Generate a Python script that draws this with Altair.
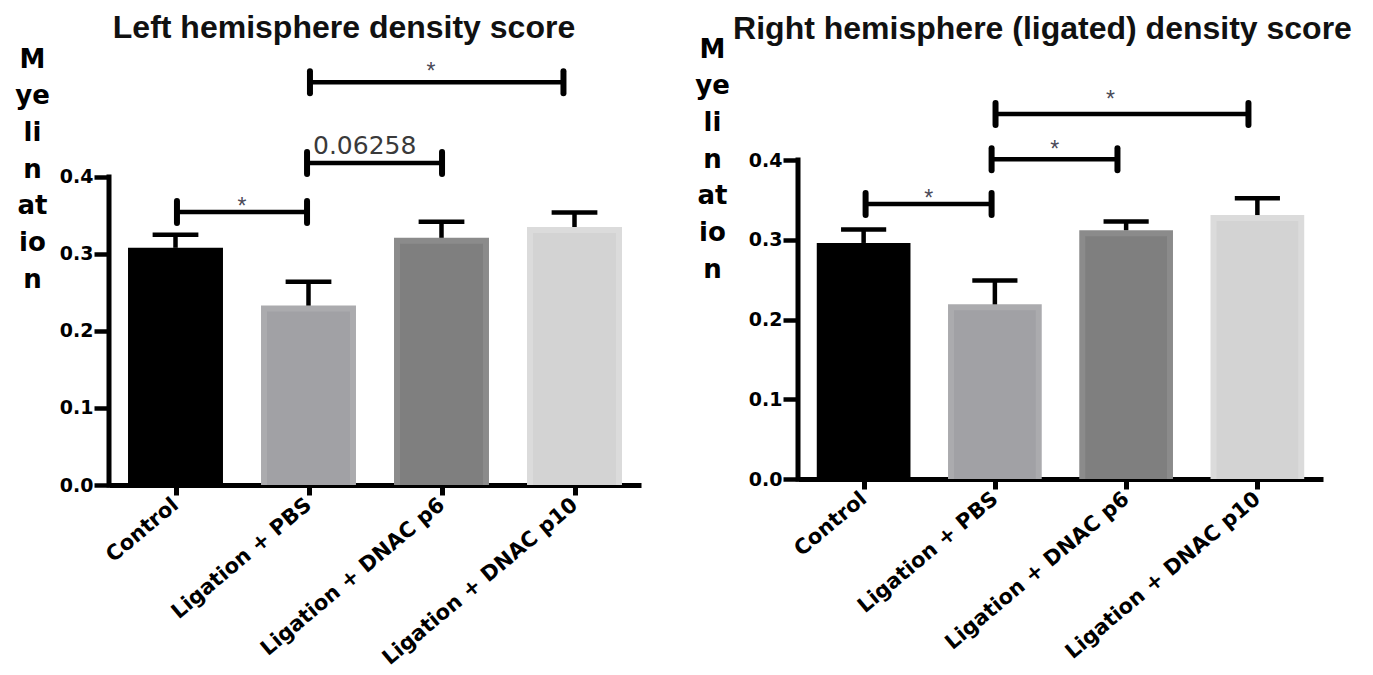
import json
import altair as alt
import pandas as pd

# ---------------- data ----------------
groups = ["Control", "Ligation + PBS", "Ligation + DNAC p6", "Ligation + DNAC p10"]
group_idx = [0, 1, 2, 3]
y_ticks = [0.0, 0.1, 0.2, 0.3, 0.4]
y_title_lines = ["M", "ye", "li", "n", "at", "io", "n"]

left_title = "Left hemisphere density score"
left_mean = [0.308, 0.233, 0.321, 0.335]
left_sem = [0.017, 0.031, 0.021, 0.019]

right_title = "Right hemisphere (ligated) density score"
right_mean = [0.296, 0.219, 0.312, 0.331]
right_sem = [0.017, 0.030, 0.011, 0.021]

outer_colors = ["#000000", "#ababae", "#8b8b8b", "#dbdbdb"]
inner_colors = ["#000000", "#a1a1a5", "#7f7f7f", "#d3d3d3"]

# significance brackets (group index units, value units)
left_br_x1 = [1.011, 0.989, 0.011]
left_br_x2 = [2.917, 2.004, 0.989]
left_br_y = [0.523, 0.418, 0.3545]
left_ann_x = [1.92, 1.034, 0.5]
left_ann_y = [0.543, 0.430, 0.3675]
left_ann_text = ["*", "0.06258", "*"]

right_br_x1 = [1.005, 0.975, 0.015]
right_br_x2 = [2.932, 1.934, 0.975]
right_br_y = [0.4577, 0.401, 0.345]
right_ann_x = [1.88, 1.455, 0.495]
right_ann_y = [0.4815, 0.419, 0.357]
right_ann_text = ["*", "*", "*"]

BAR_HALF = 0.357
CAP_HALF = 0.172
LABEL_EXPR = json.dumps(groups) + "[datum.value]"


def panel(means, sems, brx1, brx2, bry, ann_x, ann_y, ann_text,
          ymax, width, height, title, title_dx, title_offset, yt_x, yt_y):
    px_x = width / 4.0
    px_y = height / ymax
    inset_x = 6.0 / px_x
    inset_y = 6.0 / px_y
    endcap = 11.0 / px_y

    bars = pd.DataFrame({"idx": group_idx, "group": groups, "mean": means,
                         "sem": sems, "outer": outer_colors, "inner": inner_colors})
    brackets = pd.DataFrame({"x1": brx1, "x2": brx2, "y": bry})
    ann = pd.DataFrame({"x": ann_x, "y": ann_y, "text": ann_text})
    yaxis_line = pd.DataFrame({"x": [-0.5], "y0": [y_ticks[0]], "y1": [y_ticks[-1]]})

    xs = alt.Scale(domain=[-0.5, 3.5], nice=False, zero=False)
    ys = alt.Scale(domain=[0, ymax], nice=False, zero=False)

    x_axis = alt.Axis(values=group_idx, labelExpr=LABEL_EXPR, title=None,
                      labelAngle=-40, labelAlign="right", labelBaseline="middle",
                      labelFont="DejaVu Sans", labelFontWeight="bold", labelFontSize=21,
                      labelColor="#000", labelPadding=7, labelLimit=1000,
                      tickSize=10, tickWidth=5,
                      tickColor="#000", domainColor="#000", domainWidth=5, grid=False,
                      labelOverlap=False, labelFlush=False, labelBound=False)
    y_axis = alt.Axis(values=y_ticks, format=".1f", domain=False, grid=False,
                      tickSize=15, tickWidth=4.5, tickColor="#000",
                      labelFont="DejaVu Sans", labelFontWeight="bold", labelFontSize=19,
                      labelColor="#000", labelPadding=1,
                      title=y_title_lines, titleAngle=0, titleAlign="center",
                      titleBaseline="alphabetic", titleFont="DejaVu Sans",
                      titleFontWeight="bold", titleFontSize=26, titleColor="#000",
                      titleLineHeight=36.7, titleX=yt_x, titleY=yt_y)

    def X(field):
        return alt.X(field, scale=xs, axis=x_axis)

    def Y(field):
        return alt.Y(field, scale=ys, axis=y_axis)

    base = alt.Chart(bars)
    outer = base.transform_calculate(
        xa=f"datum.idx - {BAR_HALF}", xb=f"datum.idx + {BAR_HALF}", zero="0"
    ).mark_rect().encode(
        x=X("xa:Q"), x2="xb:Q", y=Y("mean:Q"), y2="zero:Q",
        color=alt.Color("outer:N", scale=None),
    )
    inner = base.transform_calculate(
        xa=f"datum.idx - {BAR_HALF - inset_x}", xb=f"datum.idx + {BAR_HALF - inset_x}",
        top=f"datum.mean - {inset_y}", zero="0"
    ).mark_rect().encode(
        x=X("xa:Q"), x2="xb:Q", y=Y("top:Q"), y2="zero:Q",
        color=alt.Color("inner:N", scale=None),
    )
    err_v = base.transform_calculate(top="datum.mean + datum.sem").mark_rule(
        color="#000", strokeWidth=4.5
    ).encode(x=X("idx:Q"), y=Y("mean:Q"), y2="top:Q")
    err_cap = base.transform_calculate(
        top="datum.mean + datum.sem",
        xa=f"datum.idx - {CAP_HALF}", xb=f"datum.idx + {CAP_HALF}"
    ).mark_rule(color="#000", strokeWidth=4.5).encode(
        x=X("xa:Q"), x2="xb:Q", y=Y("top:Q"),
    )
    yline = alt.Chart(yaxis_line).mark_rule(color="#000", strokeWidth=5, strokeCap="square").encode(
        x=X("x:Q"), y=Y("y0:Q"), y2="y1:Q",
    )
    br = alt.Chart(brackets)
    br_h = br.mark_rule(color="#000", strokeWidth=4.5).encode(
        x=X("x1:Q"), x2="x2:Q", y=Y("y:Q"),
    )
    br_l = br.transform_calculate(ya=f"datum.y - {endcap}", yb=f"datum.y + {endcap}").mark_rule(
        color="#000", strokeWidth=6, strokeCap="round"
    ).encode(x=X("x1:Q"), y=Y("ya:Q"), y2="yb:Q")
    br_r = br.transform_calculate(ya=f"datum.y - {endcap}", yb=f"datum.y + {endcap}").mark_rule(
        color="#000", strokeWidth=6, strokeCap="round"
    ).encode(x=X("x2:Q"), y=Y("ya:Q"), y2="yb:Q")
    an = alt.Chart(ann)
    stars = an.transform_filter("datum.text == '*'").mark_text(
        font="Liberation Sans", fontSize=23, color="#4a4a58", baseline="alphabetic", dy=12
    ).encode(x=X("x:Q"), y=Y("y:Q"), text="text:N")
    pval = an.transform_filter("datum.text != '*'").mark_text(
        font="DejaVu Sans", fontSize=25, color="#3a3a3a", baseline="alphabetic", align="left"
    ).encode(x=X("x:Q"), y=Y("y:Q"), text="text:N")
    layers = alt.layer(outer, inner, err_v, err_cap, yline, br_h, br_l, br_r, stars, pval)
    return layers.properties(
        width=width, height=height,
        title=alt.TitleParams(title, font="Liberation Sans", fontSize=32, fontWeight="bold",
                              color="#111", anchor="middle", dx=title_dx, offset=title_offset),
    )


left = panel(left_mean, left_sem, left_br_x1, left_br_x2, left_br_y,
             left_ann_x, left_ann_y, left_ann_text,
             ymax=0.5558, width=532, height=428, title=left_title,
             title_dx=-31, title_offset=1, yt_x=-77, yt_y=10)
right = panel(right_mean, right_sem, right_br_x1, right_br_x2, right_br_y,
              right_ann_x, right_ann_y, right_ann_text,
              ymax=0.5292, width=525, height=422, title=right_title,
              title_dx=-18, title_offset=-10, yt_x=-86, yt_y=0)

chart = alt.hconcat(left, right, spacing=53).properties(
    padding={"left": 6, "top": 4, "right": 5, "bottom": 5}
).configure_view(stroke=None)

chart.save("out.html", embed_options={"renderer": "svg", "actions": False})
